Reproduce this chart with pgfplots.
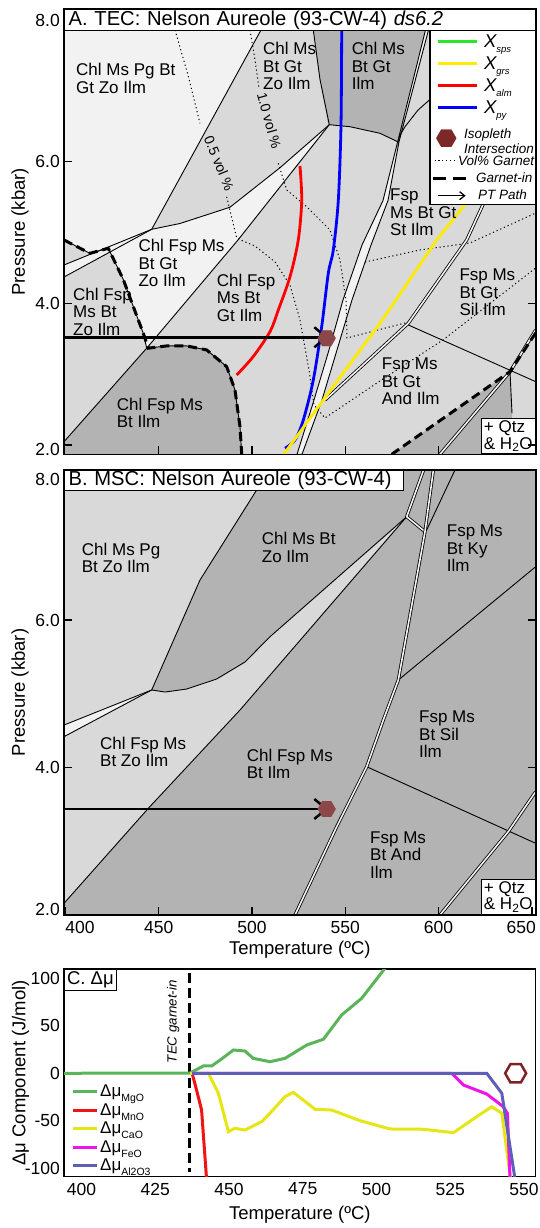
\documentclass[border=0pt]{standalone}
\usepackage{fontspec}
\setmainfont{Liberation Sans}
\usepackage{pgfplots}
\pgfplotsset{compat=1.18}
\usetikzlibrary{arrows.meta}

\definecolor{vlight}{RGB}{242,242,242}
\definecolor{lgray}{RGB}{217,217,217}
\definecolor{dgray}{RGB}{179,179,179}
\definecolor{isoblue}{RGB}{0,0,255}
\definecolor{isored}{RGB}{255,0,0}
\definecolor{isoyellow}{RGB}{255,235,0}
\definecolor{isogreen}{RGB}{40,230,40}
\definecolor{hexA}{RGB}{140,72,72}
\definecolor{hexL}{RGB}{125,40,40}
\definecolor{hexC}{RGB}{125,35,35}
\definecolor{cgreen}{RGB}{90,180,90}
\definecolor{cred}{RGB}{240,20,20}
\definecolor{cyellow}{RGB}{230,230,20}
\definecolor{cmag}{RGB}{235,20,235}
\definecolor{cpurp}{RGB}{95,95,185}

\pgfdeclareplotmark{hexa}{%
 \pgfpathmoveto{\pgfqpointpolar{0}{\pgfplotmarksize}}%
 \pgfpathlineto{\pgfqpointpolar{60}{\pgfplotmarksize}}%
 \pgfpathlineto{\pgfqpointpolar{120}{\pgfplotmarksize}}%
 \pgfpathlineto{\pgfqpointpolar{180}{\pgfplotmarksize}}%
 \pgfpathlineto{\pgfqpointpolar{240}{\pgfplotmarksize}}%
 \pgfpathlineto{\pgfqpointpolar{300}{\pgfplotmarksize}}%
 \pgfpathclose
 \pgfusepathqfillstroke}

\newcommand\lblfont{\fontsize{17}{17.5}\selectfont}
\newcommand\tickfont{\fontsize{17.5}{17.5}\selectfont}
\newcommand\axlabfont{\fontsize{18.5}{18.5}\selectfont}
\newcommand\titfont{\fontsize{20.2}{20.2}\selectfont}
\newcommand\legfont{\itshape\fontsize{13.5}{15}\selectfont}

\tikzset{
 lbl/.style={anchor=west, align=left, inner sep=0pt, font=\lblfont},
 bline/.style={draw=black, line width=0.9pt},
 dbl/.style={draw=black, line width=0.8pt, double=vlight, double distance=1.6pt},
 vdot/.style={draw=black, line width=1pt, dash pattern=on 1.2pt off 2.8pt},
 gin/.style={draw=black, line width=3pt, dash pattern=on 9pt off 5pt},
 iso/.style={line width=2.8pt},
 ptarrow/.style={draw=black, line width=2.5pt, -{Straight Barb[length=12pt,width=20pt]}},
 qtzbox/.style={draw, line width=1.2pt, fill=white, anchor=south east, align=left, inner xsep=2.5pt, inner ysep=2pt, font=\fontsize{17}{16.7}\selectfont},
 legbox/.style={draw=none, fill=none},
}

\pgfplotsset{
 panel/.style={
  scale only axis, width=471.7pt,
  axis on top,
  axis line style={line width=1.6pt},
  every tick/.style={black, line width=1.3pt},
  major tick length=8pt, tick align=inside,
  xtick pos=left,
  yticklabel style={font=\tickfont, inner sep=0pt, xshift=-4pt},
  xticklabel style={font=\tickfont, inner sep=0pt, yshift=-6pt},
  every axis y label/.style={at={(axis description cs:-0.0933,0.5)}, rotate=90, anchor=center, font=\axlabfont},
  every axis x label/.style={at={(axis description cs:0.5,-0.0787)}, anchor=center, font=\axlabfont},
 }
}

\begin{document}
\begin{tikzpicture}
\useasboundingbox (0pt,0pt) rectangle (540pt,-1228pt);

%================ PANEL A =================
\begin{axis}[panel, at={(64pt,-9.3pt)}, anchor=north west, height=445pt,
 xmin=399.25, xmax=652.04, ymin=1.867, ymax=8.1525,
 axis background/.style={fill=lgray},
 xtick={450,500,550,600}, xticklabels={},
 ytick={2,4,6}, yticklabels={{\raisebox{-5pt}[\height][\depth]{2.0}},4.0,6.0},
 extra y ticks={8}, extra y tick labels={8.0}, extra y tick style={major tick length=0pt},
 ylabel={Pressure (kbar)},
 legend style={at={(1,0.95348)}, anchor=north east, draw=black, line width=1.2pt, fill=white,
   inner xsep=1pt, inner ysep=0pt, row sep=0pt, column sep=6pt, font=\legfont, nodes={inner sep=0pt}},
 legend cell align=left]

% legend
\addlegendimage{legend image code/.code={\path[legbox] (0pt,-11pt) rectangle (44pt,11pt);\draw[line width=3pt,isogreen] (5pt,0pt)--(44pt,0pt);}}
\addlegendentry{{\fontsize{18.5}{18.5}\selectfont X}{\fontsize{9.5}{9.5}\selectfont\raisebox{-5pt}[0pt][0pt]{sps}}}
\addlegendimage{legend image code/.code={\path[legbox] (0pt,-11pt) rectangle (44pt,11pt);\draw[line width=3pt,isoyellow] (5pt,0pt)--(44pt,0pt);}}
\addlegendentry{{\fontsize{18.5}{18.5}\selectfont X}{\fontsize{9.5}{9.5}\selectfont\raisebox{-5pt}[0pt][0pt]{grs}}}
\addlegendimage{legend image code/.code={\path[legbox] (0pt,-11pt) rectangle (44pt,11pt);\draw[line width=3pt,isored] (5pt,0pt)--(44pt,0pt);}}
\addlegendentry{{\fontsize{18.5}{18.5}\selectfont X}{\fontsize{9.5}{9.5}\selectfont\raisebox{-5pt}[0pt][0pt]{alm}}}
\addlegendimage{legend image code/.code={\path[legbox] (0pt,-11pt) rectangle (44pt,11pt);\draw[line width=3pt,isoblue] (5pt,0pt)--(44pt,0pt);}}
\addlegendentry{{\fontsize{18.5}{18.5}\selectfont X}{\fontsize{9.5}{9.5}\selectfont\raisebox{-5pt}[0pt][0pt]{py}}}
\addlegendimage{legend image code/.code={\path[legbox] (0pt,-14pt) rectangle (44pt,19.6pt);\draw plot[only marks, mark=hexa, mark size=10pt, mark options={draw=hexL, fill=hexL, line width=0.2pt}] coordinates {(13.7pt,0pt)};}}
\addlegendentry{\hspace*{-20pt}\begin{tabular}{@{}l@{}}Isopleth\\Intersection\end{tabular}}
\addlegendimage{legend image code/.code={\path[legbox] (0pt,-8.7pt) rectangle (44pt,8.7pt);\draw[line width=1pt, dash pattern=on 1.2pt off 2.6pt] (2pt,0pt)--(22pt,0pt);}}
\addlegendentry{\hspace*{-26pt}Vol\% Garnet}
\addlegendimage{legend image code/.code={\path[legbox] (0pt,-8.7pt) rectangle (44pt,8.7pt);\draw[line width=3pt, dash pattern=on 13pt off 7pt] (0pt,0pt)--(34pt,0pt);}}
\addlegendentry{\hspace*{-8pt}Garnet-in}
\addlegendimage{legend image code/.code={\path[legbox] (0pt,-8.7pt) rectangle (44pt,8.7pt);\draw[line width=1.2pt, -{Straight Barb[length=5pt,width=8pt]}] (5pt,0pt)--(33pt,0pt);}}
\addlegendentry{\hspace*{-6pt}PT Path}

% fields
\addplot[fill=vlight, draw=none] coordinates {(399.25,7.86) (504.82,7.86) (446.25,5.045) (422.83,4.77) (413.18,4.706) (399.25,4.894)} -- cycle;
\addplot[fill=vlight, draw=none] coordinates {(446.25,5.045) (399.25,4.541) (399.25,4.371)} -- cycle;
\addplot[fill=vlight, draw=none] coordinates {(422.99,4.777) (446.25,5.045) (461.42,5.127) (488.21,5.357) (515.01,5.915) (541.43,6.523) (492.50,4.894) (443.57,3.366) (441.75,3.576) (436.39,3.953) (431.03,4.336)} -- cycle;
\addplot[fill=dgray, draw=none] coordinates {(532.85,7.86) (536.44,7.161) (540.89,6.518) (541.43,6.523) (552.52,6.494) (568.60,6.401) (578.08,6.282) (593.62,7.86)} -- cycle;
\addplot[fill=dgray, draw=none] coordinates {(399.25,2.045) (443.57,3.366) (444.43,3.366) (454.29,3.398) (465.01,3.398) (475.72,3.341) (486.44,3.105) (490.89,2.775) (493.57,2.257) (494.48,1.867) (399.25,1.867)} -- cycle;
\addplot[fill=dgray, draw=none] coordinates {(574.87,1.867) (638.27,3.034) (639.34,2.446) (639.34,1.867)} -- cycle;
\addplot[bline, fill=vlight] coordinates {(592.98,7.86) (578.08,6.282) (570.21,5.452) (558.95,4.823) (548.77,4.047) (541.27,3.341) (533.23,2.634) (524.12,1.867) (526.80,1.867) (537.51,2.634) (545.55,3.341) (553.59,4.047) (563.78,4.823) (572.89,5.452) (578.78,6.282) (594.59,7.86)} -- cycle;

% thin boundaries
\addplot[bline] coordinates {(504.82,7.86) (446.25,5.045)};
\addplot[bline] coordinates {(446.25,5.045) (461.42,5.127) (488.21,5.357) (515.01,5.915) (541.43,6.523)};
\addplot[bline] coordinates {(541.43,6.523) (492.50,4.894) (443.57,3.366) (399.25,2.045)};
\addplot[bline] coordinates {(446.25,5.045) (399.25,4.541)};
\addplot[bline] coordinates {(446.25,5.045) (399.25,4.371)};
\addplot[bline] coordinates {(532.85,7.86) (536.44,7.161) (541.43,6.523)};
\addplot[bline] coordinates {(541.43,6.523) (552.52,6.494) (568.60,6.401) (578.08,6.282)};
\addplot[bline] coordinates {(578.78,6.348) (581.99,6.494) (589.0,6.730) (596.30,6.900)};
\addplot[bline] coordinates {(583.76,3.694) (652.04,2.893)};
\addplot[bline] coordinates {(638.27,3.034) (639.34,2.446)};
\addplot[bline] coordinates {(443.57,3.366) (444.43,3.366) (454.29,3.398) (465.01,3.398) (475.72,3.341) (486.44,3.105) (490.89,2.775) (493.57,2.257) (494.48,1.867)};
\addplot[bline] coordinates {(399.25,4.894) (413.18,4.706) (422.99,4.777) (431.03,4.336) (436.39,3.953) (441.75,3.576) (443.57,3.366)};

% vol% garnet
\addplot[vdot] coordinates {(458.74,7.86) (465.70,7.225) (472.13,6.542)};
\addplot[vdot] coordinates {(486.44,5.503) (491.80,4.918) (501.61,4.809) (512.33,4.584) (520.37,4.258) (525.72,3.764) (530.55,3.058) (533.23,2.564) (539.12,2.380) (568.60,2.903) (602.36,3.482) (652.04,4.499)};
\addplot[vdot] coordinates {(498.93,7.86) (501.61,7.437) (503.75,7.041)};
\addplot[vdot] coordinates {(514.10,5.977) (518.60,5.600) (529.31,5.364) (541.80,5.035) (547.16,4.612) (550.38,4.047) (550.91,3.510) (584.14,3.736)};
\addplot[vdot] coordinates {(560.56,4.583) (590.03,4.753) (616.83,4.852) (652.04,5.275)};

% double lines
\addplot[dbl] coordinates {(627.44,5.600) (623.96,5.403) (615.06,4.894) (583.76,3.718) (539.12,2.634)};
\addplot[dbl] coordinates {(600.75,1.867) (638.27,3.034) (652.04,3.623)};

% isopleths
\addplot[iso, isoblue, smooth] coordinates {(548.07,7.86) (547.70,6.518) (546.25,5.452) (543.57,4.753) (540.89,4.424) (537.35,3.670) (532.85,2.917) (527.50,2.352) (523.04,2.069) (517.69,1.952)};
\addplot[iso, isored, smooth] coordinates {(525.72,5.939) (526.64,5.452) (524.81,4.894) (520.37,4.376) (514.10,3.905) (509.65,3.599) (500.70,3.249) (491.80,2.987)};
\addplot[iso, isoyellow] coordinates {(621.12,5.627) (613.24,5.364) (598.98,4.894) (568.60,3.718) (538.21,2.634) (516.78,1.857)};

% garnet-in
\addplot[gin] coordinates {(399.25,4.894) (413.18,4.706) (422.99,4.777) (431.03,4.336) (436.39,3.953) (441.75,3.576) (444.43,3.366) (454.29,3.398) (465.01,3.398) (475.72,3.341) (486.44,3.105) (490.89,2.775) (493.57,2.257) (494.48,1.867)};
\addplot[gin] coordinates {(574.87,1.867) (638.27,3.034) (652.04,3.581)};

% intersection + PT path
\addplot[only marks, mark=hexa, mark size=9pt, mark options={fill=hexA, draw=hexA, line width=0.1pt}] coordinates {(540.03,3.506)};
\addplot[ptarrow] coordinates {(399.25,3.520) (540.89,3.520)};

% labels
\node[lbl] at (axis cs:405.68,7.175) {Chl Ms Pg Bt\\Gt Zo Ilm};
\node[lbl] at (axis cs:505.90,7.352) {Chl Ms\\Bt Gt\\Zo Ilm};
\node[lbl] at (axis cs:553.43,7.352) {Chl Ms\\Bt Gt\\Ilm};
\node[lbl] at (axis cs:439.07,4.565) {Chl Fsp Ms\\Bt Gt\\Zo Ilm};
\node[lbl] at (axis cs:404.07,3.881) {Chl Fsp\\Ms Bt\\Zo Ilm};
\node[lbl] at (axis cs:481.08,4.078) {Chl Fsp\\Ms Bt\\Gt Ilm};
\node[lbl] at (axis cs:427.49,2.451) {Chl Fsp Ms\\Bt Ilm};
\node[lbl] at (axis cs:573.96,5.280) {Fsp\\Ms Bt Gt\\St Ilm};
\node[lbl] at (axis cs:611.10,4.155) {Fsp Ms\\Bt Gt\\Sil Ilm};
\node[lbl] at (axis cs:569.51,2.893) {Fsp Ms\\Bt Gt\\And Ilm};
\node[rotate=-67.8, inner sep=0pt, font=\fontsize{14}{14}\selectfont] at (axis cs:482.42,5.977) {0.5 vol \%};
\node[rotate=-74.7, inner sep=0pt, font=\fontsize{14}{14}\selectfont] at (axis cs:509.22,6.578) {1.0 vol \%};
\node[qtzbox] at (rel axis cs:1,0) {+ Qtz\\\& H\textsubscript{2}O};
\node[draw, line width=1.2pt, fill=white, anchor=north west, inner xsep=4pt, inner ysep=0pt, minimum height=20.7pt, text width=463.7pt, align=left, font=\titfont] at (rel axis cs:0,1) {A. TEC: Nelson Aureole (93-CW-4) \textit{ds6.2}};
\end{axis}

%================ PANEL B =================
\begin{axis}[panel, at={(64pt,-470pt)}, anchor=north west, height=445pt,
 xmin=399.25, xmax=652.04, ymin=1.9946, ymax=8.0367,
 axis background/.style={fill=dgray},
 xtick={400,450,500,550,600,650},
 xticklabels={{\makebox[0pt][l]{400}},450,500,550,600,{\makebox[0pt][r]{650\hspace{-4pt}}}},
 ytick={2,4,6}, yticklabels={{\raisebox{5.6pt}[\height][\depth]{2.0}},4.0,6.0},
 extra y ticks={8}, extra y tick labels={{\raisebox{-6.3pt}[\height][\depth]{8.0}}}, extra y tick style={major tick length=0pt},
 xlabel={Temperature (ºC)}, ylabel={Pressure (kbar)}]

\addplot[fill=lgray, draw=none] coordinates {(399.25,8.1) (509.11,8.1) (509.11,8.037) (502.52,7.766) (472.13,6.543) (446.25,5.050) (453.38,5.022) (465.01,5.063) (481.08,5.199) (496.25,5.430) (509.65,5.773) (582.91,7.403) (493.57,4.778) (444.43,3.443) (399.25,2.153)} -- cycle;
\addplot[fill=vlight, draw=none] coordinates {(446.25,5.050) (399.25,4.574) (399.25,4.416)} -- cycle;

\addplot[bline] coordinates {(509.11,8.037) (502.52,7.766) (472.13,6.543) (446.25,5.050)};
\addplot[bline] coordinates {(446.25,5.050) (453.38,5.022) (465.01,5.063) (481.08,5.199) (496.25,5.430) (509.65,5.773) (582.91,7.403)};
\addplot[bline] coordinates {(582.91,7.403) (493.57,4.778) (444.43,3.443) (399.25,2.153)};
\addplot[bline] coordinates {(446.25,5.050) (399.25,4.574)};
\addplot[bline] coordinates {(446.25,5.050) (399.25,4.416)};
\addplot[bline] coordinates {(608.79,8.037) (593.62,7.222)};
\addplot[bline] coordinates {(578.41,5.185) (652.04,6.724)};
\addplot[bline] coordinates {(561.47,4.008) (652.04,2.968)};

\addplot[dbl] coordinates {(591.96,8.037) (582.91,7.403) (592.71,7.199)};
\addplot[dbl] coordinates {(597.2,8.037) (592.71,7.199) (578.41,5.185) (570.37,4.642) (561.47,4.008) (545.39,3.194) (523.04,1.9946)};
\addplot[dbl] coordinates {(600.75,1.9946) (637.36,3.126) (652.04,3.669)};

\addplot[only marks, mark=hexa, mark size=9pt, mark options={fill=hexA, draw=hexA, line width=0.1pt}] coordinates {(540.03,3.434)};
\addplot[ptarrow] coordinates {(399.25,3.434) (540.89,3.434)};

\node[lbl] at (axis cs:408.73,6.842) {Chl Ms Pg\\Bt Zo Ilm};
\node[lbl] at (axis cs:505.20,6.984) {Chl Ms Bt\\Zo Ilm};
\node[lbl] at (axis cs:604.34,6.974) {Fsp Ms\\Bt Ky\\Ilm};
\node[lbl] at (axis cs:418.54,4.208) {Chl Fsp Ms\\Bt Zo Ilm};
\node[lbl] at (axis cs:497.16,4.048) {Chl Fsp Ms\\Bt Ilm};
\node[lbl] at (axis cs:589.49,4.449) {Fsp Ms\\Bt Sil\\Ilm};
\node[lbl] at (axis cs:563.24,2.813) {Fsp Ms\\Bt And\\Ilm};
\node[qtzbox] at (rel axis cs:1,0) {+ Qtz\\\& H\textsubscript{2}O};
\node[draw, line width=1.2pt, fill=white, anchor=north west, inner xsep=4pt, inner ysep=0pt, minimum height=20pt, text width=331pt, align=left, font=\titfont] at (rel axis cs:0,1) {B. MSC: Nelson Aureole (93-CW-4)};
\end{axis}

%================ PANEL C =================
\begin{axis}[at={(64pt,-969pt)}, anchor=north west, scale only axis, width=471.7pt, height=207.7pt,
 xmin=394.05, xmax=554.0, ymin=-109.2, ymax=110.1,
 axis line style={line width=1.4pt}, major tick length=0pt,
 xtick={400,425,450,475,500,525,550}, xticklabels={400,425,450,475,500,525,550},
 ytick={-100,-50,0,50,100}, yticklabels={-100,-50,0,50,100},
 yticklabel style={font=\tickfont, inner sep=0pt, xshift=-4pt},
 xticklabel style={font=\tickfont, inner sep=0pt, yshift=-6pt},
 xlabel={Temperature (ºC)}, ylabel={Δμ Component (J/mol)},
 every axis y label/.style={at={(axis description cs:-0.0922,0.5)}, rotate=90, anchor=center, font=\axlabfont},
 every axis x label/.style={at={(axis description cs:0.5,-0.1844)}, anchor=center, font=\axlabfont},
 legend style={at={(0.0163,0.4548)}, anchor=north west, draw=none, fill=none, inner sep=0pt,
   row sep=0pt, column sep=2pt, font=\fontsize{17}{17}\selectfont, nodes={inner sep=0pt}},
 legend cell align=left]

\addlegendimage{legend image code/.code={\path[legbox] (0pt,-9.25pt) rectangle (23.3pt,9.25pt);\draw[line width=3pt,cgreen] (0pt,0pt)--(23.3pt,0pt);}}
\addlegendentry{Δμ{\fontsize{10.5}{10.5}\selectfont\raisebox{-5pt}[0pt][0pt]{MgO}}}
\addlegendimage{legend image code/.code={\path[legbox] (0pt,-9.25pt) rectangle (23.3pt,9.25pt);\draw[line width=3pt,cred] (0pt,0pt)--(23.3pt,0pt);}}
\addlegendentry{Δμ{\fontsize{10.5}{10.5}\selectfont\raisebox{-5pt}[0pt][0pt]{MnO}}}
\addlegendimage{legend image code/.code={\path[legbox] (0pt,-9.25pt) rectangle (23.3pt,9.25pt);\draw[line width=3pt,cyellow] (0pt,0pt)--(23.3pt,0pt);}}
\addlegendentry{Δμ{\fontsize{10.5}{10.5}\selectfont\raisebox{-5pt}[0pt][0pt]{CaO}}}
\addlegendimage{legend image code/.code={\path[legbox] (0pt,-9.25pt) rectangle (23.3pt,9.25pt);\draw[line width=3pt,cmag] (0pt,0pt)--(23.3pt,0pt);}}
\addlegendentry{Δμ{\fontsize{10.5}{10.5}\selectfont\raisebox{-5pt}[0pt][0pt]{FeO}}}
\addlegendimage{legend image code/.code={\path[legbox] (0pt,-9.25pt) rectangle (23.3pt,9.25pt);\draw[line width=3pt,cpurp] (0pt,0pt)--(23.3pt,0pt);}}
\addlegendentry{Δμ{\fontsize{10.5}{10.5}\selectfont\raisebox{-5pt}[0pt][0pt]{Al2O3}}}

\addplot[draw=black, line width=3pt, dash pattern=on 10pt off 5pt] coordinates {(436.5,105.9) (436.5,-104.2)};
\addplot[cgreen, line width=3pt] coordinates {(394.05,0) (436.8,0.3) (441.3,7.7) (444.1,7.7) (447.0,14) (451.5,24.6) (455.4,23.5) (458.2,15.8) (463.9,12.2) (469.0,15.8) (476.4,29.9) (482.0,35.9) (488.2,61.6) (495.0,79.2) (502.9,110.9)};
\addplot[cred, line width=3pt] coordinates {(437.5,0) (439.0,-17.6) (440.7,-38.7) (442.4,-112)};
\addplot[cyellow, line width=3pt] coordinates {(436.8,0) (443.0,0) (446.4,-21.1) (449.8,-61.7) (452.0,-58.1) (455.4,-59.9) (461.1,-51.1) (463.9,-42.2) (469.0,-24.7) (471.8,-20.1) (479.2,-38) (484.8,-38.8) (494.4,-50) (504.6,-58.8) (515.9,-59.1) (526.1,-62.7) (534.0,-45.8) (539.1,-35.3) (542.5,-42.2) (545.5,-112)};
\addplot[cmag, line width=3pt] coordinates {(437.5,0) (525.5,0) (529.5,-12.4) (537.4,-21.9) (543.0,-35.3) (544.4,-42.2) (545.3,-112)};
\addplot[cpurp, line width=3pt] coordinates {(437.5,0) (537.4,0) (542.5,-21.1) (547.0,-112)};
\addplot[only marks, mark=hexa, mark size=10.5pt, mark options={fill=white, draw=hexC, line width=2.5pt}] coordinates {(547.2,0)};

\node[rotate=90, inner sep=0pt, font=\itshape\fontsize{13.3}{13.3}\selectfont] at (axis cs:431.1,54.5) {TEC garnet-in};
\node[draw, line width=1.2pt, fill=white, anchor=north west, inner xsep=2.5pt, inner ysep=0pt, minimum height=21pt, font=\fontsize{18.5}{18.5}\selectfont] at (rel axis cs:0,1) {C. Δμ};
\end{axis}
\end{tikzpicture}
\end{document}
